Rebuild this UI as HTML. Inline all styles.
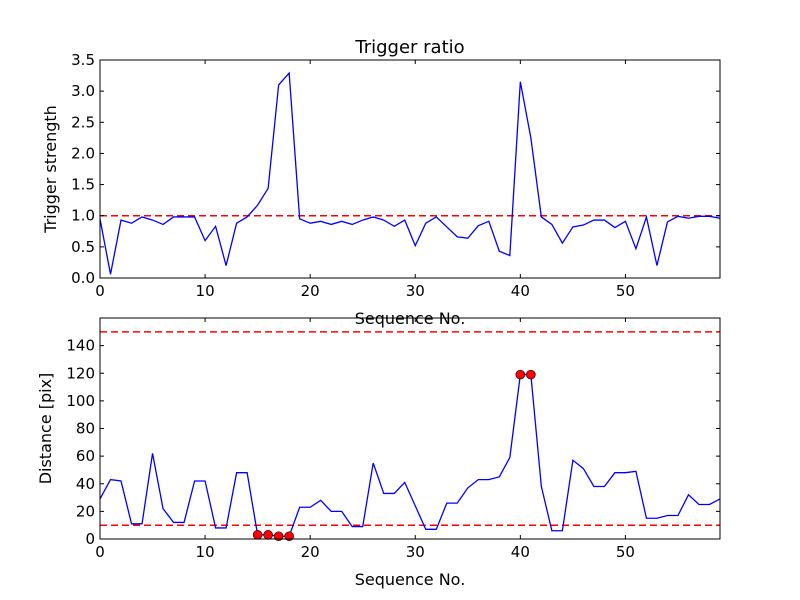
<!DOCTYPE html>
<html><head><meta charset="utf-8"><style>body{margin:0;background:#fff}svg{display:block;font-family:"DejaVu Sans","Liberation Sans",sans-serif}</style></head>
<body>
<svg id="c" width="800" height="600"></svg>
<script>
const seqTop=[0.95,0.06,0.93,0.88,0.98,0.93,0.86,0.98,0.98,0.98,0.6,0.83,0.2,0.88,0.98,1.17,1.44,3.1,3.29,0.95,0.88,0.91,0.86,0.91,0.86,0.93,0.98,0.93,0.83,0.93,0.52,0.88,0.98,0.82,0.66,0.64,0.84,0.91,0.43,0.36,3.15,2.25,0.98,0.86,0.56,0.82,0.85,0.93,0.93,0.81,0.91,0.47,0.98,0.2,0.9,0.99,0.96,0.99,0.99,0.96];
const distance=[29,43,42,11,11,62,22,12,12,42,42,8,8,48,48,3,3,2,2,23,23,28,20,20,9,9,55,33,33,41,24,7,7,26,26,37,43,43,45,59,119,119,38,6,6,57,51,38,38,48,48,49,15,15,17,17,32,25,25,29];
const flagged=[15,16,17,18,40,41];
const xTicks=[0,10,20,30,40,50];
const topTicks=[0,0.5,1,1.5,2,2.5,3,3.5];
const botTicks=[0,20,40,60,80,100,120,140];
const topThresh=[1.0];
const botThresh=[10,150];
const svg=document.getElementById('c');const NS='http://www.w3.org/2000/svg';
function mk(t,a,p){const e=document.createElementNS(NS,t);for(const k in a)e.setAttribute(k,a[k]);(p||svg).appendChild(e);return e;}
const X0=100,X1=720;const sx=v=>X0+v/59*(X1-X0);
function panel(y0,y1,ymax,vals,ticks,thr,fmt,ylabel,name,title){
 const sy=v=>y1-v/ymax*(y1-y0);
 const g=mk('g',{});
 
 
 thr.forEach(t=>{const l=mk('line',{x1:X0,x2:X1,y1:sy(t),y2:sy(t),stroke:'#f00','stroke-width':1.5,'stroke-dasharray':'7,4'},g);
 
 });
 const p=mk('polyline',{points:vals.map((v,i)=>sx(i)+','+sy(v)).join(' '),fill:'none',stroke:'#00f','stroke-width':1.3},g);
 
 
 if(name==='distance-panel'){flagged.forEach(i=>{const c=mk('circle',{cx:sx(i),cy:sy(vals[i]),r:4.5,fill:'#f00',stroke:'#000','stroke-width':0.6},g);
 
 });}
 const f=mk('rect',{x:X0,y:y0,width:X1-X0,height:y1-y0,fill:'none',stroke:'#000','stroke-width':1},g);
 
 
 xTicks.forEach(t=>{const x=sx(t);mk('line',{x1:x,x2:x,y1:y1,y2:y1-4,stroke:'#000'},g);mk('line',{x1:x,x2:x,y1:y0,y2:y0+4,stroke:'#000'},g);
 const tx=mk('text',{x:x,y:y1+18,'text-anchor':'middle','font-size':15},g);tx.textContent=t;
 
 });
 ticks.forEach(t=>{const y=sy(t);mk('line',{x1:X0,x2:X0+4,y1:y,y2:y,stroke:'#000'},g);mk('line',{x1:X1,x2:X1-4,y1:y,y2:y,stroke:'#000'},g);
 const tx=mk('text',{x:X0-5,y:y+5,'text-anchor':'end','font-size':15},g);tx.textContent=fmt(t);
 
 });
 const xl=mk('text',{x:410,y:y1+46,'text-anchor':'middle','font-size':16},g);xl.textContent='Sequence No.';
 
 
 const yl=mk('text',{x:0,y:0,'text-anchor':'middle','font-size':16,transform:`translate(${name==='distance-panel'?51:56},${(y0+y1)/2}) rotate(-90)`},g);yl.textContent=ylabel;
 
 
 if(title){const tt=mk('text',{x:410,y:y0-7,'text-anchor':'middle','font-size':18},g);tt.textContent=title;
 
 }
}
panel(60,278,3.5,seqTop,topTicks,topThresh,t=>t.toFixed(1),'Trigger strength','trigger-panel','Trigger ratio');
panel(318,539,160,distance,botTicks,botThresh,t=>String(t),'Distance [pix]','distance-panel',null);
</script>
</body></html>
